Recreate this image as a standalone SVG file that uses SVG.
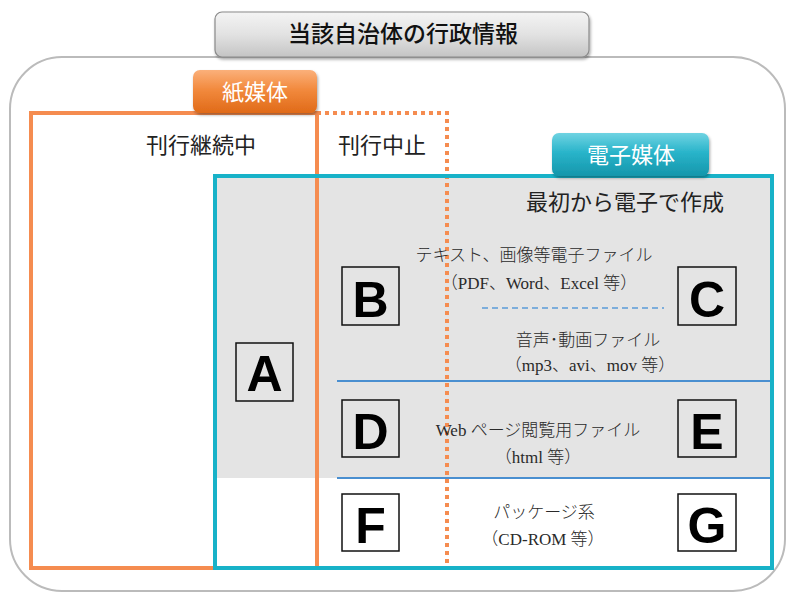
<svg xmlns="http://www.w3.org/2000/svg" width="791" height="595" viewBox="0 0 791 595">
<defs>
<linearGradient id="gGray" x1="0" y1="0" x2="0" y2="1">
<stop offset="0" stop-color="#f4f4f4"/><stop offset="0.5" stop-color="#e2e2e2"/><stop offset="1" stop-color="#c4c4c4"/>
</linearGradient>
<linearGradient id="gOrange" x1="0" y1="0" x2="0" y2="1">
<stop offset="0" stop-color="#fbb07a"/><stop offset="0.45" stop-color="#f28a3e"/><stop offset="1" stop-color="#e06a18"/>
</linearGradient>
<linearGradient id="gTeal" x1="0" y1="0" x2="0" y2="1">
<stop offset="0" stop-color="#6fd3e2"/><stop offset="0.45" stop-color="#29b4ca"/><stop offset="1" stop-color="#1596ab"/>
</linearGradient>
<filter id="shadow" x="-10%" y="-20%" width="120%" height="150%">
<feDropShadow dx="1" dy="2" stdDeviation="1.5" flood-color="#000" flood-opacity="0.35"/>
</filter>
<style>
.jp{font-family:"Noto Sans CJK JP","Noto Sans",sans-serif;}
.mincho{font-family:"Liberation Serif","Noto Sans CJK JP",serif;font-size:17px;font-weight:300;fill:#2a2a2a;text-anchor:middle;}
.lbl{font-family:"Noto Sans CJK JP","Noto Sans",sans-serif;font-size:22px;fill:#222;text-anchor:middle;}
.box{fill:none;stroke:#111;stroke-width:1.5;}
.letter{font-family:"Liberation Sans",Arial,sans-serif;font-weight:bold;font-size:50px;fill:#000;text-anchor:middle;}
.badge{font-family:"Noto Sans CJK JP",sans-serif;font-size:22px;fill:#fff;text-anchor:middle;}
</style>
</defs>

<!-- outer frame -->
<rect x="10" y="57" width="775" height="534" rx="52" ry="52" fill="#fff" stroke="#bbbbbb" stroke-width="2"/>

<!-- gray area (digital-born) -->
<rect x="215" y="176" width="557" height="302" fill="#e4e4e4"/>

<g id="connectors">
<rect x="31" y="113" width="286" height="455" fill="none" stroke="#f58c50" stroke-width="4"/>
<path d="M317 113 H447 V566" fill="none" stroke="#f58c50" stroke-width="4" stroke-dasharray="4 4"/>
<rect x="215" y="176" width="557" height="392" fill="none" stroke="#18b2c8" stroke-width="4"/>
<line x1="337" y1="381" x2="770" y2="381" stroke="#4a8fd0" stroke-width="2"/>
<line x1="337" y1="478" x2="770" y2="478" stroke="#4a8fd0" stroke-width="2"/>
<line x1="482" y1="308" x2="664" y2="308" stroke="#5a9ad8" stroke-width="1.5" stroke-dasharray="6 4"/>
</g>

<g id="title">
<rect x="215" y="12" width="374" height="45" rx="7" ry="7" fill="url(#gGray)" stroke="#8a8a8a" stroke-width="1.2" filter="url(#shadow)"/>
<text x="403" y="42" class="jp" font-size="23" font-weight="500" fill="#111" text-anchor="middle">当該自治体の行政情報</text>
</g>

<g id="paper-badge">
<rect x="193" y="70" width="124" height="43" rx="7" ry="7" fill="url(#gOrange)" filter="url(#shadow)"/>
<text x="255" y="100" class="badge">紙媒体</text>
</g>

<g id="digital-badge">
<rect x="552" y="133" width="157" height="43" rx="7" ry="7" fill="url(#gTeal)" filter="url(#shadow)"/>
<text x="631" y="163" class="badge">電子媒体</text>
</g>

<g id="labels">
<text x="201" y="153" class="lbl">刊行継続中</text>
<text x="382" y="153" class="lbl">刊行中止</text>
<text x="625" y="210" class="lbl">最初から電子で作成</text>
</g>

<g id="node-A"><rect x="236" y="343" width="57" height="58" class="box"/><text x="264.5" y="391" class="letter">A</text></g>
<g id="node-B"><rect x="342" y="267" width="57" height="58" class="box"/><text x="370.5" y="317" class="letter">B</text></g>
<g id="node-C"><rect x="678" y="267" width="58" height="58" class="box"/><text x="707" y="317" class="letter">C</text></g>
<g id="node-D"><rect x="342" y="400" width="57" height="57" class="box"/><text x="370.5" y="449" class="letter">D</text></g>
<g id="node-E"><rect x="678" y="400" width="58" height="57" class="box"/><text x="707" y="449" class="letter">E</text></g>
<g id="node-F"><rect x="342" y="494" width="57" height="57" class="box"/><text x="370.5" y="543" class="letter">F</text></g>
<g id="node-G"><rect x="678" y="494" width="58" height="57" class="box"/><text x="707" y="543" class="letter">G</text></g>

<g id="descriptions">
<text x="534" y="261" class="mincho">テキスト、画像等電子ファイル</text>
<text x="539" y="289" class="mincho">（PDF、Word、Excel 等）</text>
<text x="588" y="346" class="mincho">音声･動画ファイル</text>
<text x="590" y="371" class="mincho">（mp3、avi、mov 等）</text>
<text x="538" y="436" class="mincho">Web ページ閲覧用ファイル</text>
<text x="538" y="463" class="mincho">（html 等）</text>
<text x="544" y="518" class="mincho">パッケージ系</text>
<text x="543" y="545" class="mincho">（CD-ROM 等）</text>
</g>
</svg>
